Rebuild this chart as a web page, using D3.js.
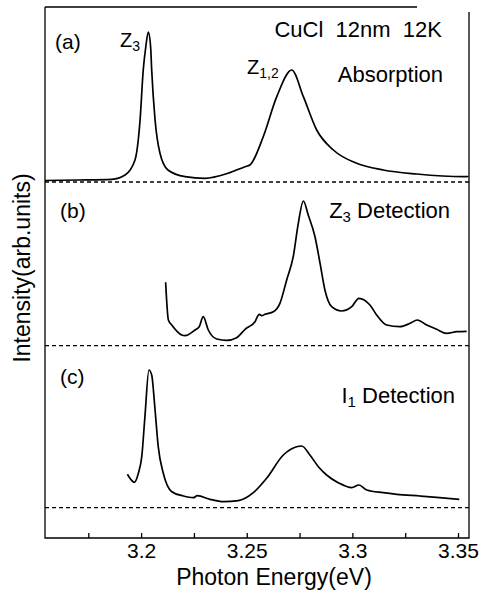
<!DOCTYPE html>
<html lang="en">
<head>
  <meta charset="utf-8">
  <title>CuCl 12nm 12K</title>
  <script src="https://d3js.org/d3.v7.min.js"></script>
  <style>
    body {
      margin: 0;
      background: white;
      font-family: "Liberation Sans", Arial, sans-serif;
    }
    svg {
      display: block;
    }
  </style>
</head>
<body>
  <svg></svg>

  <script>
  // (a) absorption
  const energyA = [3.1545, 3.1700, 3.1861, 3.1924, 3.1971, 3.1995, 3.2010, 3.2022, 3.2034, 3.2045, 3.2050, 3.2066, 3.2089, 3.2127, 3.2208, 3.2302, 3.2411, 3.2492, 3.2515, 3.2578, 3.2642, 3.2713, 3.2768, 3.2831, 3.2910, 3.3020, 3.3146, 3.3304, 3.3525, 3.3550];
  const absorption = [0.015, 0.02, 0.027, 0.07, 0.22, 0.62, 1.12, 1.35, 1.50, 1.35, 1.12, 0.62, 0.29, 0.12, 0.053, 0.037, 0.087, 0.153, 0.17, 0.453, 0.853, 1.12, 0.853, 0.52, 0.32, 0.187, 0.12, 0.08, 0.053, 0.055];

  // (b) Z3 detection
  const energyB = [3.2116, 3.2129, 3.2145, 3.2192, 3.2208, 3.2255, 3.2275, 3.2294, 3.2318, 3.2358, 3.2405, 3.2452, 3.2492, 3.2539, 3.2559, 3.2572, 3.2586, 3.2626, 3.2657, 3.2689, 3.2720, 3.2744, 3.2768, 3.2791, 3.2823, 3.2847, 3.2870, 3.2902, 3.2949, 3.2997, 3.3031, 3.3083, 3.3115, 3.3162, 3.3225, 3.3273, 3.3307, 3.3352, 3.3399, 3.3446, 3.3494, 3.3541];
  const z3Detection = [0.634, 0.257, 0.207, 0.107, 0.10, 0.157, 0.19, 0.29, 0.157, 0.067, 0.054, 0.08, 0.164, 0.24, 0.314, 0.30, 0.314, 0.34, 0.424, 0.657, 0.89, 1.224, 1.447, 1.307, 1.09, 0.824, 0.557, 0.39, 0.347, 0.39, 0.474, 0.407, 0.307, 0.207, 0.19, 0.224, 0.257, 0.207, 0.164, 0.124, 0.14, 0.144];

  // (c) I1 detection
  const energyC = [3.1935, 3.1968, 3.1987, 3.2003, 3.2018, 3.2037, 3.2050, 3.2066, 3.2081, 3.2105, 3.2145, 3.2200, 3.2247, 3.2266, 3.2326, 3.2389, 3.2460, 3.2531, 3.2594, 3.2673, 3.2736, 3.2760, 3.2799, 3.2839, 3.2878, 3.2933, 3.2997, 3.3031, 3.3068, 3.3146, 3.3210, 3.3320, 3.3399, 3.3506];
  const i1Detection = [0.334, 0.254, 0.344, 0.51, 0.91, 1.377, 1.327, 0.977, 0.61, 0.344, 0.16, 0.117, 0.10, 0.12, 0.084, 0.06, 0.07, 0.15, 0.294, 0.527, 0.61, 0.617, 0.527, 0.41, 0.327, 0.25, 0.20, 0.227, 0.177, 0.15, 0.134, 0.117, 0.104, 0.084];

  const xTicks = [3.175, 3.2, 3.225, 3.25, 3.275, 3.3, 3.325, 3.35];
  const xTickLabels = ["", "3.2", "", "3.25", "", "3.3", "", "3.35"];

  const width = 482, height = 593;
  const plotLeft = 45, plotRight = 469, plotTop = 7, plotBottom = 538;

  const svg = d3.select("svg").attr("width", width).attr("height", height);

  const x = d3.scaleLinear().domain([3.1545, 3.3552]).range([plotLeft, plotRight]);

  // one y scale per panel, 0 sits on the dashed baseline
  const panelBase = [182, 345.7, 507.7];
  const yScales = panelBase.map(b => d3.scaleLinear().domain([0, 1.5]).range([b, b - 150]));

  const panels = [
    { e: energyA, v: absorption },
    { e: energyB, v: z3Detection },
    { e: energyC, v: i1Detection }
  ];

  // frame (the scan shows a short top edge and right edge)
  svg.append("path")
    .attr("d", `M${plotLeft},${plotTop}H417M${plotLeft},${plotTop}V${plotBottom}H${plotRight}V12`)
    .attr("fill", "none")
    .attr("stroke", "#000")
    .attr("stroke-width", 1.3);

  // bottom axis, ticks pointing inward
  const xAxis = d3.axisBottom(x)
    .tickValues(xTicks)
    .tickSize(-5)
    .tickPadding(5)
    .tickFormat((d, i) => xTickLabels[i]);

  const gx = svg.append("g")
    .attr("transform", `translate(0,${plotBottom})`)
    .call(xAxis);
  gx.select(".domain").remove();
  gx.selectAll(".tick line").attr("stroke", "#000").attr("stroke-width", 1.3);
  gx.selectAll(".tick text")
    .attr("fill", "#000")
    .style("font-family", "'Liberation Sans', Arial, sans-serif")
    .style("font-size", "21px");

  // dashed baselines
  yScales.forEach(y => {
    svg.append("line")
      .attr("x1", plotLeft).attr("x2", plotRight)
      .attr("y1", y(0)).attr("y2", y(0))
      .attr("stroke", "#000")
      .attr("stroke-width", 1.3)
      .attr("stroke-dasharray", "4,3");
  });

  // spectra
  panels.forEach((p, k) => {
    const y = yScales[k];
    const line = d3.line()
      .x(d => x(d[0]))
      .y(d => y(d[1]))
      .curve(d3.curveMonotoneX);
    svg.append("path")
      .datum(d3.zip(p.e, p.v))
      .attr("d", line)
      .attr("fill", "none")
      .attr("stroke", "#000")
      .attr("stroke-width", 1.7)
      .attr("stroke-linejoin", "round");
  });

  // text
  const txt = (tx, ty, size, anchor) => svg.append("text")
    .attr("x", tx).attr("y", ty)
    .attr("text-anchor", anchor || "start")
    .style("font-size", size + "px")
    .attr("fill", "#000");

  const sub = (t, s, size) => t.append("tspan")
    .attr("dy", 4).style("font-size", size + "px").text(s);

  txt(55, 49, 21).text("(a)");
  txt(60, 218, 21).text("(b)");
  txt(60, 384, 21).text("(c)");

  txt(442, 37, 22, "end").attr("xml:space", "preserve").text("CuCl  12nm  12K");
  txt(443, 82, 22, "end").text("Absorption");

  let t = txt(120, 47, 20);
  t.append("tspan").text("Z");
  sub(t, "3", 14);

  t = txt(247, 74, 20);
  t.append("tspan").text("Z");
  sub(t, "1,2", 14);

  t = txt(450, 218, 22, "end");
  t.append("tspan").text("Z");
  sub(t, "3", 15);
  t.append("tspan").attr("dy", -4).text(" Detection");

  t = txt(455, 403, 22, "end");
  t.append("tspan").text("I");
  sub(t, "1", 15);
  t.append("tspan").attr("dy", -4).text(" Detection");

  txt(274, 585, 23, "middle").text("Photon Energy(eV)");

  svg.append("text")
    .attr("transform", "translate(30,268) rotate(-90)")
    .attr("text-anchor", "middle")
    .style("font-size", "23px")
    .attr("fill", "#000")
    .text("Intensity(arb.units)");
  </script>
</body>
</html>
